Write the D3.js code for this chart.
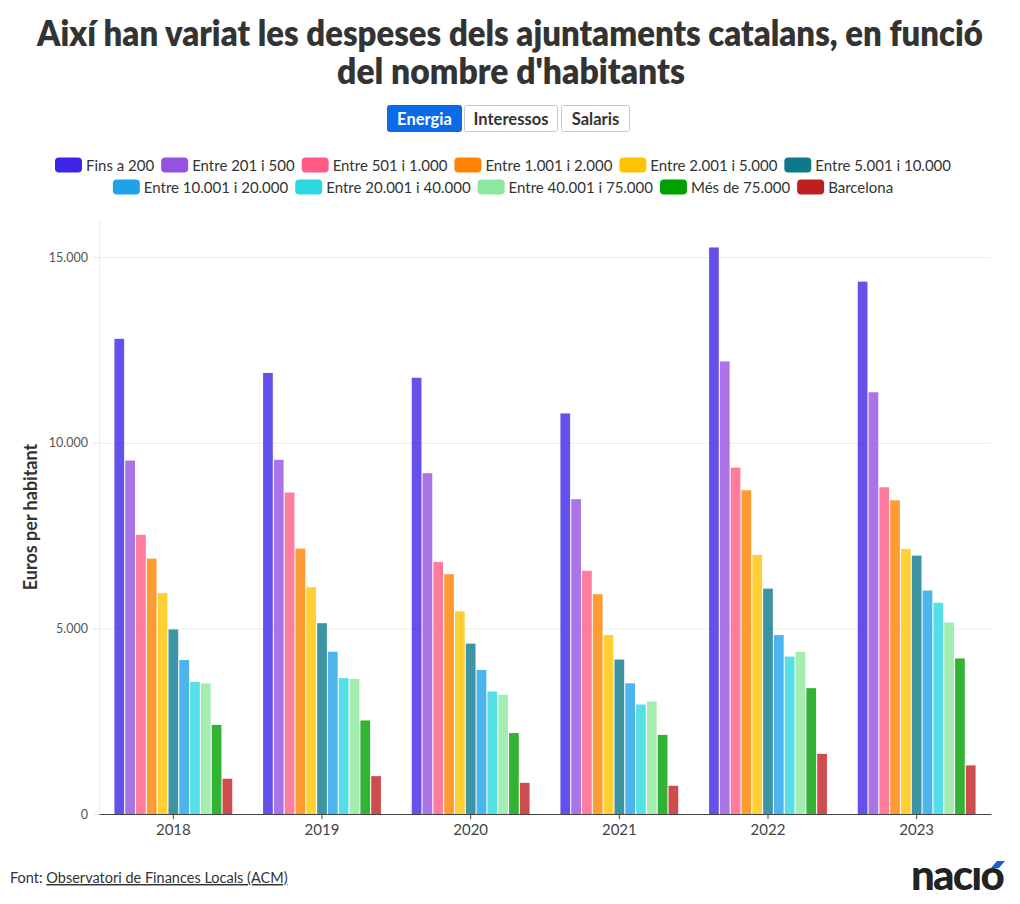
<!DOCTYPE html>
<html>
<head>
<meta charset="utf-8">
<script src="https://cdn.jsdelivr.net/npm/d3@7"></script>
<style>
  html, body { margin: 0; padding: 0; background: #fff; }
  svg { display: block; font-family: Lato, "Noto Sans", sans-serif; }
</style>
</head>
<body>
<svg id="chart" width="1020" height="904"></svg>
<script>
// ---------- DATA ----------
const years = ["2018", "2019", "2020", "2021", "2022", "2023"];
const seriesNames = [
  "Fins a 200", "Entre 201 i 500", "Entre 501 i 1.000", "Entre 1.001 i 2.000",
  "Entre 2.001 i 5.000", "Entre 5.001 i 10.000", "Entre 10.001 i 20.000",
  "Entre 20.001 i 40.000", "Entre 40.001 i 75.000", "Més de 75.000", "Barcelona"
];
const seriesColors = [
  "#3d25e6", "#9651e0", "#ff5b84", "#ff8200", "#ffc300", "#0d7a8c",
  "#1fa2e8", "#2bd7e0", "#8ce89e", "#00a000", "#c01f22"
];
const fins200      = [12800, 11880, 11750, 10790, 15260, 14340];
const entre201     = [9520, 9540, 9180, 8480, 12190, 11360];
const entre501     = [7520, 8660, 6790, 6550, 9330, 8800];
const entre1001    = [6880, 7150, 6460, 5920, 8720, 8450];
const entre2001    = [5950, 6110, 5460, 4820, 6980, 7140];
const entre5001    = [4970, 5140, 4590, 4160, 6070, 6960];
const entre10001   = [4150, 4370, 3880, 3520, 4820, 6020];
const entre20001   = [3560, 3660, 3300, 2950, 4240, 5690];
const entre40001   = [3520, 3640, 3210, 3030, 4370, 5160];
const mes75000     = [2400, 2520, 2180, 2130, 3390, 4190];
const barcelona    = [950, 1020, 840, 760, 1620, 1310];
const yTicks = [0, 5000, 10000, 15000];
const buttons = ["Energia", "Interessos", "Salaris"];
const titleLines = ["Així han variat les despeses dels ajuntaments catalans, en funció", "del nombre d'habitants"];

const seriesValues = [fins200, entre201, entre501, entre1001, entre2001, entre5001,
  entre10001, entre20001, entre40001, mes75000, barcelona];

// ---------- LAYOUT ----------
const svg = d3.select("#chart");
const W = 1020;
const plot = { left: 99, right: 991, top: 220, bottom: 814 };
const fmt = d3.formatLocale({ decimal: ",", thousands: ".", grouping: [3], currency: ["", "€"] }).format(",d");

// Title (horizontally condensed via transform to mimic a condensed face)
const titleWidths = [946, 348];
const titleBase = [46, 84];
titleLines.forEach((line, i) => {
  const g = svg.append("g");
  const t = g.append("text").attr("x", 0).attr("y", 0).attr("text-anchor", "middle")
    .attr("fill", "#333").attr("font-weight", 800).attr("font-size", 35).text(line);
  const natural = t.node().getComputedTextLength();
  const sx = titleWidths[i] / natural;
  g.attr("transform", `translate(${W / 2 + (i ? 1 : 0)},${titleBase[i]}) scale(${sx},1)`);
});

// Buttons
const btnX = [387, 464, 561];
const btnW = [75, 94, 69];
const bg = svg.append("g");
buttons.forEach((b, i) => {
  const active = i === 0;
  bg.append("rect").attr("x", btnX[i] + 0.5).attr("y", 105.5).attr("width", btnW[i] - 1).attr("height", 26)
    .attr("rx", 2).attr("fill", active ? "#0b6ae6" : "#fff")
    .attr("stroke", active ? "#0b6ae6" : "#c8c8c8");
  bg.append("text").attr("x", btnX[i] + btnW[i] / 2).attr("y", 124.5)
    .attr("text-anchor", "middle").attr("font-size", 16.5).attr("font-weight", 700)
    .attr("fill", active ? "#fff" : "#333").text(b);
});

// Legend
const legendRows = [seriesNames.slice(0, 6), seriesNames.slice(6)];
const legendY = [165, 187];
const lg = svg.append("g");
legendRows.forEach((row, r) => {
  const items = row.map(name => {
    const g = lg.append("g");
    g.append("rect").attr("width", 27).attr("height", 15).attr("rx", 4).attr("y", -7.5)
      .attr("fill", seriesColors[seriesNames.indexOf(name)]);
    const t = g.append("text").attr("x", 31).attr("y", 5.5).attr("font-size", 15)
      .attr("fill", "#333").text(name);
    const w = 31 + t.node().getComputedTextLength();
    return { g, w };
  });
  const gap = 7;
  const total = d3.sum(items, d => d.w) + gap * (items.length - 1);
  let x = 503 - total / 2;
  items.forEach(it => {
    it.g.attr("transform", `translate(${x},${legendY[r]})`);
    x += it.w + gap;
  });
});

// Scales
const x0 = d3.scaleBand().domain(years).range([plot.left, plot.right])
  .paddingInner(0.2).paddingOuter(0.1);
const x1 = d3.scaleBand().domain(seriesNames).range([0, x0.bandwidth()])
  .paddingInner(0.1).paddingOuter(0.05);
const y = d3.scaleLinear().domain([0, 16000]).range([plot.bottom, plot.top]);

// Grid
const grid = svg.append("g");
grid.selectAll("line.h").data(yTicks.filter(d => d > 0)).join("line")
  .attr("x1", plot.left).attr("x2", plot.right)
  .attr("y1", d => y(d) + 0.5).attr("y2", d => y(d) + 0.5)
  .attr("stroke", "#ececec").attr("stroke-width", 1);
grid.append("line").attr("x1", plot.left + 0.5).attr("x2", plot.left + 0.5)
  .attr("y1", plot.top).attr("y2", plot.bottom).attr("stroke", "#ececec");

// Bars
const barsG = svg.append("g");
seriesNames.forEach((name, si) => {
  barsG.append("g").attr("fill", seriesColors[si]).attr("fill-opacity", 0.8)
    .selectAll("rect").data(seriesValues[si]).join("rect")
    .attr("x", (d, i) => x0(years[i]) + x1(name))
    .attr("width", x1.bandwidth())
    .attr("y", d => y(d))
    .attr("height", d => y(0) - y(d));
});

// Y axis
const yAxis = d3.axisLeft(y).tickValues(yTicks).tickFormat(d => fmt(d)).tickSize(6).tickPadding(5);
const yg = svg.append("g").attr("transform", `translate(${plot.left},0)`).call(yAxis);
yg.select(".domain").remove();
yg.selectAll(".tick line").attr("stroke", "#e6e6e6");
yg.selectAll(".tick text").attr("font-size", 12.5).attr("fill", "#555").attr("font-family", "Lato, sans-serif");

// X axis
const xAxis = d3.axisBottom(x0).tickSize(5).tickPadding(5).tickSizeOuter(0);
const xg = svg.append("g").attr("transform", `translate(0,${plot.bottom})`).call(xAxis);
xg.select(".domain").attr("stroke", "#444");
xg.selectAll(".tick line").attr("stroke", "#444");
xg.selectAll(".tick text").attr("font-size", 15).attr("fill", "#444").attr("font-family", "Lato, sans-serif");

// Y axis title
svg.append("text").attr("transform", "translate(37,517) rotate(-90)")
  .attr("text-anchor", "middle").attr("font-size", 18).attr("font-weight", 700)
  .attr("fill", "#333").text("Euros per habitant");

// Footer
const ft = svg.append("text").attr("x", 10).attr("y", 883).attr("font-size", 14.5).attr("fill", "#333");
ft.append("tspan").text("Font: ");
ft.append("tspan").attr("text-decoration", "underline").text("Observatori de Finances Locals (ACM)");

// Logo
const logo = svg.append("g");
logo.append("text").attr("x", 911).attr("y", 890).attr("font-size", 42).attr("font-weight", 900)
  .attr("letter-spacing", -1.8).attr("fill", "#222").text("nacıo");
logo.append("polygon").attr("points", "991,868 997,861 1005,861 999,868").attr("fill", "#1a5fc8");
</script>
</body>
</html>
